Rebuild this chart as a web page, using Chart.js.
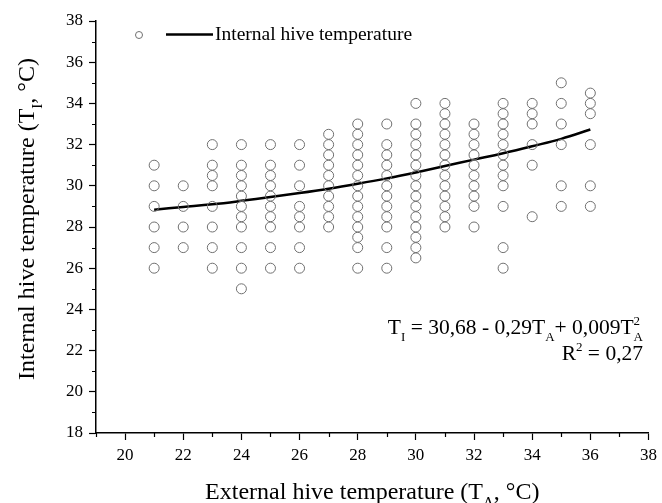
<!DOCTYPE html>
<html>
<head>
<meta charset="utf-8">
<script src="https://cdn.jsdelivr.net/npm/chart.js@4.4.1/dist/chart.umd.min.js"></script>
<style>
  html, body { margin: 0; padding: 0; background: #fff; }
  #wrap { width: 662px; height: 503px; }
</style>
</head>
<body>
<div id="wrap"><canvas id="chart" width="662" height="503"></canvas></div>
<script>
// external temperature columns (T_A, °C)
const externalT = [21, 22, 23, 24, 25, 26, 27, 28, 29, 30, 31, 32, 33, 34, 35, 36];
// internal temperatures read for each column (T_I, °C)
const internalT = [
  [31, 30, 29, 28, 27, 26],
  [30, 29, 28, 27],
  [32, 31, 30.5, 30, 29, 28, 27, 26],
  [32, 31, 30.5, 30, 29.5, 29, 28.5, 28, 27, 26, 25],
  [32, 31, 30.5, 30, 29.5, 29, 28.5, 28, 27, 26],
  [32, 31, 30, 29, 28.5, 28, 27, 26],
  [32.5, 32, 31.5, 31, 30.5, 30, 29.5, 29, 28.5, 28],
  [33, 32.5, 32, 31.5, 31, 30.5, 30, 29.5, 29, 28.5, 28, 27.5, 27, 26],
  [33, 32, 31.5, 31, 30.5, 30, 29.5, 29, 28.5, 28, 27, 26],
  [34, 33, 32.5, 32, 31.5, 31, 30.5, 30, 29.5, 29, 28.5, 28, 27.5, 27, 26.5],
  [34, 33.5, 33, 32.5, 32, 31.5, 31, 30.5, 30, 29.5, 29, 28.5, 28],
  [33, 32.5, 32, 31.5, 31, 30.5, 30, 29.5, 29, 28],
  [34, 33.5, 33, 32.5, 32, 31.5, 31, 30.5, 30, 29, 27, 26],
  [34, 33.5, 33, 32, 31, 28.5],
  [35, 34, 33, 32, 30, 29],
  [34.5, 34, 33.5, 32, 30, 29]
];
// fitted curve as drawn in the figure
const fitX = [21, 22, 23, 24, 25, 26, 27, 28, 29, 30, 31, 32, 33, 34, 35, 36];
const fitY = [28.84, 28.97, 29.1, 29.27, 29.46, 29.65, 29.86, 30.1, 30.36, 30.65, 30.96, 31.27, 31.58, 31.92, 32.28, 32.73];

const xTitle = [{t: 'External hive temperature (T'}, {sub: 'A'}, {t: ', °C)'}];
const yTitle = [{t: 'Internal hive temperature (T'}, {sub: 'I'}, {t: ', °C)'}];
const eqLine = [{t: 'T'}, {sub: 'I'}, {t: ' = 30,68 - 0,29T'}, {sub: 'A'}, {t: '+ 0,009T'}, {sub: 'A', sup: '2'}];
const r2Line = [{t: 'R'}, {sup: '2'}, {t: ' = 0,27'}];
const legendLabel = 'Internal hive temperature';

const FONT = '"Liberation Serif", "Times New Roman", serif';

const points = [];
externalT.forEach((x, i) => internalT[i].forEach(y => points.push({x: x, y: y})));
const curve = fitX.map((x, i) => ({x: x, y: fitY[i]}));

function fnt(size) { return size + 'px ' + FONT; }

function partWidth(ctx, p, size, small) {
  if (p.t !== undefined) { ctx.font = fnt(size); return ctx.measureText(p.t).width; }
  ctx.font = fnt(small);
  let w = 0;
  if (p.sub) w = Math.max(w, ctx.measureText(p.sub).width);
  if (p.sup) w = Math.max(w, ctx.measureText(p.sup).width);
  return w;
}

// draw text with sub/superscripts, baseline at y
function drawRich(ctx, parts, x, y, size, align) {
  const small = Math.round(size * 0.62);
  let total = 0;
  parts.forEach(p => total += partWidth(ctx, p, size, small));
  let cx = align === 'right' ? x - total : align === 'center' ? x - total / 2 : x;
  ctx.textBaseline = 'alphabetic';
  ctx.textAlign = 'left';
  ctx.fillStyle = '#000';
  parts.forEach(p => {
    const w = partWidth(ctx, p, size, small);
    if (p.t !== undefined) {
      ctx.font = fnt(size);
      ctx.fillText(p.t, cx, y);
    } else {
      ctx.font = fnt(small);
      if (p.sub) ctx.fillText(p.sub, cx, y + size * 0.32);
      if (p.sup) ctx.fillText(p.sup, cx, y - size * 0.42);
    }
    cx += w;
  });
}

const extras = {
  id: 'extras',
  afterDraw(chart) {
    const ctx = chart.ctx;
    const xs = chart.scales.x, ys = chart.scales.y;
    const area = chart.chartArea;
    ctx.save();
    // minor ticks
    ctx.strokeStyle = '#000';
    ctx.lineWidth = 1.2;
    ctx.beginPath();
    for (let v = 19; v <= 38; v += 2) {
      const px = Math.round(xs.getPixelForValue(v)) + 0.5;
      ctx.moveTo(px, area.bottom); ctx.lineTo(px, area.bottom + 4);
    }
    for (let v = 19; v <= 38; v += 2) {
      const py = Math.round(ys.getPixelForValue(v)) + 0.5;
      ctx.moveTo(area.left, py); ctx.lineTo(area.left - 4, py);
    }
    ctx.stroke();

    // axis titles
    drawRich(ctx, xTitle, (area.left + area.right) / 2, 499, 24, 'center');
    ctx.save();
    ctx.translate(34, 219);
    ctx.rotate(-Math.PI / 2);
    drawRich(ctx, yTitle, 0, 0, 24, 'center');
    ctx.restore();

    // regression equation
    drawRich(ctx, eqLine, 643, 334, 21.5, 'right');
    drawRich(ctx, r2Line, 643, 360, 21.5, 'right');

    // legend
    ctx.strokeStyle = '#707070';
    ctx.lineWidth = 1;
    ctx.beginPath();
    ctx.arc(139, 35, 3.5, 0, Math.PI * 2);
    ctx.stroke();
    ctx.strokeStyle = '#000';
    ctx.lineWidth = 2.5;
    ctx.beginPath();
    ctx.moveTo(166, 34.5); ctx.lineTo(213, 34.5);
    ctx.stroke();
    ctx.fillStyle = '#000';
    ctx.font = fnt(19.5);
    ctx.textAlign = 'left';
    ctx.textBaseline = 'middle';
    ctx.fillText(legendLabel, 215, 35);
    ctx.restore();
  }
};

const majorOnly = c => (c.tick.value % 2 === 0 ? '#000' : 'rgba(0,0,0,0)');

new Chart(document.getElementById('chart'), {
  type: 'scatter',
  data: {
    datasets: [{
      label: '',
      data: points,
      pointStyle: 'circle',
      pointRadius: 5,
      pointHoverRadius: 5,
      borderWidth: 1,
      borderColor: '#707070',
      backgroundColor: 'rgba(0,0,0,0)'
    }, {
      type: 'line',
      label: legendLabel,
      data: curve,
      showLine: true,
      borderColor: '#000',
      borderWidth: 2.5,
      pointRadius: 0,
      tension: 0.4,
      fill: false
    }]
  },
  options: {
    responsive: false,
    animation: false,
    layout: { padding: { top: 21, right: 12, left: 0, bottom: 0 } },
    plugins: { legend: { display: false }, tooltip: { enabled: false } },
    scales: {
      x: {
        type: 'linear', min: 19, max: 38,
        afterFit: s => { s.height = 70; },
        ticks: {
          stepSize: 1, autoSkip: false, maxRotation: 0, padding: 5,
          color: '#000', font: { family: FONT, size: 17 },
          callback: v => (v % 2 === 0 ? v : '')
        },
        grid: { drawOnChartArea: false, tickLength: 7, tickWidth: 1.2, tickColor: majorOnly },
        border: { color: '#000', width: 1.5 }
      },
      y: {
        min: 18, max: 38,
        afterFit: s => { s.width = 96; },
        ticks: {
          stepSize: 1, autoSkip: false, padding: 6,
          color: '#000', font: { family: FONT, size: 17 },
          callback: v => (v % 2 === 0 ? v : '')
        },
        grid: { drawOnChartArea: false, tickLength: 7, tickWidth: 1.2, tickColor: majorOnly },
        border: { color: '#000', width: 1.5 }
      }
    }
  },
  plugins: [extras]
});
</script>
</body>
</html>
